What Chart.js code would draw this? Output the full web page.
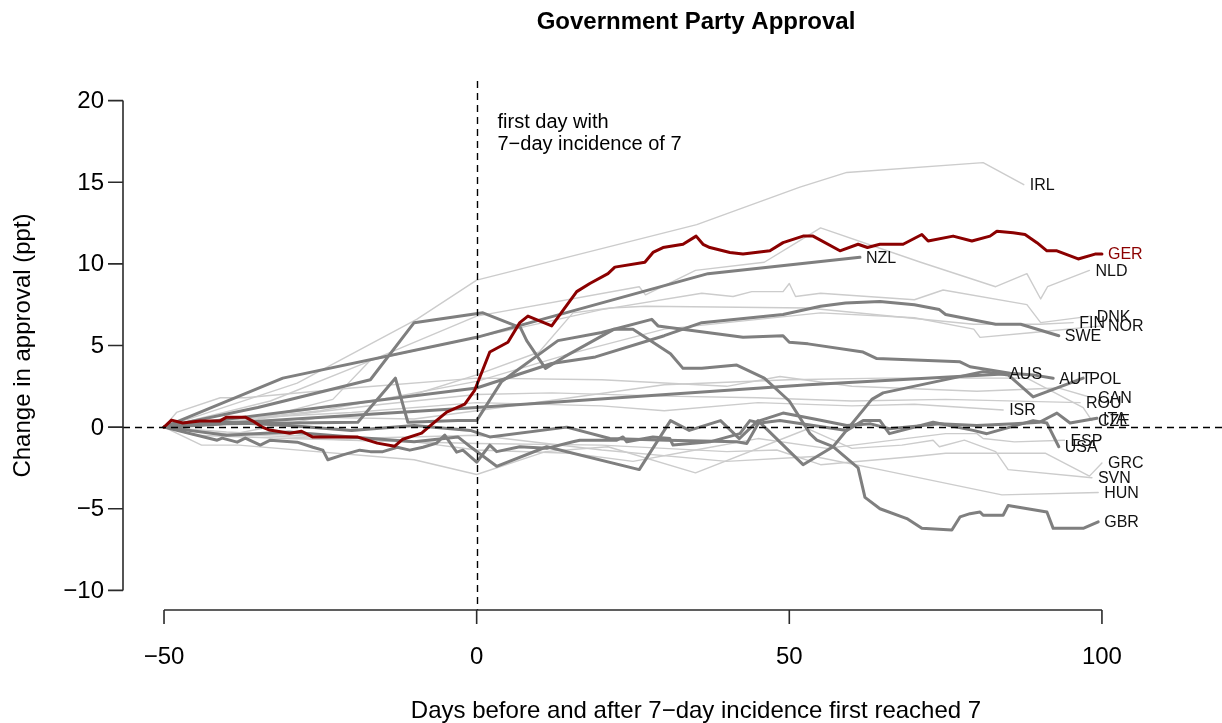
<!DOCTYPE html>
<html>
<head>
<meta charset="utf-8">
<title>Government Party Approval</title>
<script src="https://cdn.jsdelivr.net/npm/chart.js@4.4.1/dist/chart.umd.min.js"></script>
<style>
  html, body { margin: 0; padding: 0; background: #ffffff; overflow: hidden; }
  #wrap { position: relative; width: 1222px; height: 723px; }
</style>
</head>
<body>
<div id="wrap"><canvas id="chart"></canvas></div>
<script>
// Change in government party approval (percentage points), by days relative
// to the first day a country's 7-day incidence reached 7.

// ---- focus country ----
const dGER = [-50,-48.8,-47,-44.3,-41.1,-40,-37,-35.8,-34.3,-33.1,
              -29.9,-28,-26.2,-19,-15.9,-13.1,-11.8,-8.8,-7.5,-4.8,
              -1.9,-0.3,2.1,5,6.9,8.2,12,16,18.1,21,
              22.1,26.9,28.2,29.8,33,35.1,36.2,37.3,40.5,42.6,
              46.9,49,52.2,53.8,58.1,61,62.5,64.5,68.2,71.2,
              72.2,76.2,79.2,82.1,83.2,85.8,87.7,89.6,91.2,92.8,
              96.2,98.9,100];
const vGER = [0,0.43,0.25,0.37,0.37,0.61,0.61,0.37,0,-0.18,
              -0.37,-0.25,-0.61,-0.61,-0.98,-1.17,-0.74,-0.37,0.06,0.92,
              1.41,2.27,4.6,5.2,6.4,6.8,6.2,8.3,8.8,9.4,
              9.8,10.1,10.7,11.0,11.2,11.7,11.2,11.0,10.7,10.6,
              10.8,11.3,11.7,11.7,10.8,11.2,11.0,11.2,11.2,11.8,
              11.4,11.7,11.4,11.7,12.0,11.9,11.8,11.3,10.8,10.8,
              10.3,10.6,10.6];

// ---- highlighted comparison countries ----
const dNZL = [-50,-31,0,37,61.3];
const vNZL = [0,3.0,5.5,9.4,10.4];

const dSWE = [-50,0,12,19,30,36,49,55,59,64.5,70,74,75,83,87,93.1];
const vSWE = [0,2.4,3.9,4.3,5.6,6.4,6.9,7.4,7.6,7.7,7.5,7.2,6.9,6.3,6.3,5.6];

const dAUS = [-50,0,53,84.2];
const vAUS = [0,1.2,2.6,3.25];

const dAUT = [-50,-40,-19,-13,-11,-3,0,4,13,20,28,29,42.6,49,50,53,61.8,64,77.3,78.9,85.3,89,92.2];
const vAUT = [0,0.2,0.3,3.0,0.3,0.4,0.4,2.8,5.3,5.8,6.6,6.2,5.5,5.6,5.2,5.1,4.6,4.2,4.0,3.7,3.3,3.2,3.0];

const dPOL = [-50,-40,-30,-20,-10,-3,-1,3.2,11.2,26,31,34,39,42,45,52.2,57,63.2,65,81,85,89,97];
const vPOL = [0,-0.5,-0.3,-0.6,-0.9,-0.6,-1.2,-2.4,-1.2,-2.6,0.4,-0.2,0.4,-0.7,0.4,-2.3,-1.2,1.7,2.1,3.4,3.2,1.85,3.0];

const dITA = [-50,-40,-30,-20,-10,-1,2.1,14.4,21.3,30.4,41.6,43.2,45.3,49,54,59.2,63,66,74,80,86,90,92.8,94.9,99.2];
const vITA = [0,0.3,0.1,-0.2,0.1,-0.2,-0.6,0,-0.7,-0.8,-0.9,-1.0,0.4,0.86,0.5,0.1,0.2,-0.1,0.2,0.1,0.2,0.3,0.86,0.25,0.55];

const dUSA = [-50,-41.5,-40.7,-38.3,-37,-34.6,-33,-28.7,-26.2,-24.6,
              -23.8,-21.4,-18.7,-17,-15,-12.7,-10.7,-8.6,-6.4,-5.1,
              -3.2,-2.2,0,2.1,3.2,6.9,11.2,15.4,16.5,22.4,
              23.4,24,28.2,30.9,31.4,37.3,42.1,43.7,45.3,48.5,
              59.2,61.8,64.5,66,73,79.4,81.6,85.3,89,91.2,93.1];
const vUSA = [0,-0.8,-0.67,-0.92,-0.67,-1.1,-0.8,-0.92,-1.23,-1.41,
              -2.0,-1.7,-1.41,-1.5,-1.5,-1.23,-1.41,-1.23,-0.98,-0.49,
              -1.53,-1.41,-2.15,-1.1,-1.5,-1.2,-1.3,-0.9,-0.8,-0.8,
              -0.6,-0.9,-0.6,-0.7,-1.1,-0.9,-0.4,0.4,0.25,0.4,
              -0.2,0.4,0.4,-0.4,0.3,-0.2,-0.4,0,0.4,0.25,-1.2];

const dGBR = [-50,-35,-17,-10,1,7,8,11,14,22,25,31,33,36,41.6,46,50,53.3,54.4,57,
              61,62.1,64.5,68.8,71.2,76,77.3,78.9,80.5,81,84.2,85,91.2,92.2,97,99.4];
const vGBR = [0,1.2,2.9,6.4,7.0,6.1,5.3,3.6,4.3,6.0,6.0,4.5,3.6,3.6,3.8,3.0,1.6,-0.4,-0.8,-1.2,
              -2.5,-4.3,-5.0,-5.6,-6.2,-6.3,-5.5,-5.3,-5.2,-5.4,-5.4,-4.8,-5.2,-6.2,-6.2,-5.8];

// ---- other countries (background) ----
const dIRL = [-50,-28.7,-9.6,0,35.2,51.7,59.2,81,87.5];
const vIRL = [0,2.7,6.6,9.0,12.4,14.7,15.6,16.2,14.85];

const dNLD = [-50,-33,-18,0,26,27,35,46,52,55,71,83,88,90.2,91.3,98];
const vNLD = [0,1.6,3.9,6.8,8.6,8.1,9.6,10.1,11.5,12.2,10.1,8.6,9.4,7.85,8.6,9.6];

const dDNK = [-50,-35,-23,-17,0,20,36,41,44,49,50,51,55,70,74.6,88,90.2,98.2];
const vDNK = [0,0.5,1.7,4.1,5.5,7.2,8.2,8.0,8.3,8.3,8.8,8.0,8.2,7.8,8.4,7.5,6.4,6.8];

const dFIN = [-50,-30,-10,0,10,15.4,21.3,27,53,79.5,90,95.4];
const vFIN = [0,0.9,2.0,3.2,4.6,7.0,7.3,7.4,7.3,6.3,6.3,6.4];

const dNOR = [-50,-25,0,15,30,45,55,70,79.5,80.5,89,100];
const vNOR = [0,1.0,2.8,4.5,6.0,6.6,7.0,6.7,6.0,5.5,5.8,6.2];

const dCAN = [-50,-48,-41,-37,-20,0,20,40,48.5,60,80,93,98.4];
const vCAN = [0,0.9,1.8,1.8,2.4,3.0,2.9,2.5,3.1,2.5,2.2,2.4,1.8];

const dROU = [-50,-35,-15,0,12,30,45,60,75,96.5];
const vROU = [0,0.5,1.4,2.0,2.1,1.9,1.8,1.6,1.7,1.5];

const dISR = [-50,-40,-20,0,20,30,45,60,70,84.2];
const vISR = [0,0.5,0.9,1.5,1.3,1.0,1.5,1.3,1.4,1.05];

const dCZE = [-50,-40,-25,-10,0,15,30,50,65,88,97,98.4];
const vCZE = [0,-0.5,0.6,0.5,1.0,1.8,2.6,2.9,3.0,3.0,1.2,0.4];

const dESP = [-50,-45,-30,-10,0,15,25,35,45,56,75,80,81,86,94];
const vESP = [0,-0.5,-0.7,-0.9,-1.4,-1.6,-2.1,-1.4,-0.7,-1.3,-0.4,-0.4,-0.7,-0.9,-0.8];

const dGRC = [-50,-40,-20,0,20,40,48,55,70,75,91,98,100];
const vGRC = [0,-0.4,-0.8,-1.0,-1.1,-1.5,-1.4,-2.3,-1.8,-1.6,-1.6,-3.0,-2.2];

const dSVN = [-50,-44,-38,-10,0,11,21,35,53,60,68,73,74,78,83,85,98.4];
const vSVN = [0,-1.1,-1.1,-2.0,-2.9,-1.5,-1.2,-2.8,-0.1,-1.3,-1.1,-0.8,-1.2,-0.8,-1.5,-2.6,-3.1];

const dHUN = [-50,-40,-20,0,20,40,54,64.5,84,99.4];
const vHUN = [0,-0.3,-0.7,-0.5,-1.4,-2.1,-1.8,-2.6,-4.15,-4.0];

// ---- axes ----
const xTicks = [-50, 0, 50, 100];
const yTicks = [-10, -5, 0, 5, 10, 15, 20];
const xTickLabels = ['\u221250', '0', '50', '100'];
const yTickLabels = ['\u221210', '\u22125', '0', '5', '10', '15', '20'];

const mainTitle = 'Government Party Approval';
const xTitle = 'Days before and after 7\u2212day incidence first reached 7';
const yTitle = 'Change in approval (ppt)';
const markerNote = ['first day with', '7\u2212day incidence of 7'];

const focusCountry = 'GER';
const darkCountries = ['NZL','SWE','AUS','AUT','POL','ITA','USA','GBR'];
const lightCountries = ['IRL','NLD','DNK','FIN','NOR','CAN','ROU','ISR','CZE','ESP','GRC','SVN','HUN'];

const seriesDays = {GER:dGER,NZL:dNZL,SWE:dSWE,AUS:dAUS,AUT:dAUT,POL:dPOL,ITA:dITA,USA:dUSA,GBR:dGBR,
  IRL:dIRL,NLD:dNLD,DNK:dDNK,FIN:dFIN,NOR:dNOR,CAN:dCAN,ROU:dROU,ISR:dISR,CZE:dCZE,ESP:dESP,GRC:dGRC,SVN:dSVN,HUN:dHUN};
const seriesVals = {GER:vGER,NZL:vNZL,SWE:vSWE,AUS:vAUS,AUT:vAUT,POL:vPOL,ITA:vITA,USA:vUSA,GBR:vGBR,
  IRL:vIRL,NLD:vNLD,DNK:vDNK,FIN:vFIN,NOR:vNOR,CAN:vCAN,ROU:vROU,ISR:vISR,CZE:vCZE,ESP:vESP,GRC:vGRC,SVN:vSVN,HUN:vHUN};

const FOCUS_COLOR = '#8b0000';
const DARK_COLOR = '#7f7f7f';
const LIGHT_COLOR = '#cccccc';
const FONT = '"Liberation Sans", Arial, Helvetica, sans-serif';

function toPoints(code) {
  const d = seriesDays[code], v = seriesVals[code];
  return d.map((x, i) => ({ x: x, y: v[i] }));
}
function makeDataset(code, color, width, order) {
  return {
    label: code,
    data: toPoints(code),
    borderColor: color,
    borderWidth: width,
    pointRadius: 0,
    pointHoverRadius: 0,
    tension: 0,
    fill: false,
    borderCapStyle: 'round',
    borderJoinStyle: 'round',
    order: order
  };
}

const datasets = [];
lightCountries.forEach(c => datasets.push(makeDataset(c, LIGHT_COLOR, 1.4, 3)));
darkCountries.forEach(c => datasets.push(makeDataset(c, DARK_COLOR, 3, 2)));
datasets.push(makeDataset(focusCountry, FOCUS_COLOR, 3, 1));

// Base-graphics style frame: detached axes, dashed reference lines, end labels.
const framePlugin = {
  id: 'frame',
  afterDatasetsDraw(chart) {
    const ctx = chart.ctx;
    const xs = chart.scales.x, ys = chart.scales.y;
    const area = chart.chartArea;
    ctx.save();

    // reference lines at day 0 and zero change
    ctx.save();
    ctx.beginPath();
    ctx.rect(area.left, area.top, area.right - area.left, area.bottom - area.top);
    ctx.clip();
    ctx.strokeStyle = '#000000';
    ctx.lineWidth = 1.4;
    ctx.setLineDash([7, 5]);
    const x0 = Math.round(xs.getPixelForValue(0)) + 0.5;
    ctx.beginPath(); ctx.moveTo(x0, area.top); ctx.lineTo(x0, area.bottom); ctx.stroke();
    const y0 = Math.round(ys.getPixelForValue(0)) + 0.5;
    ctx.beginPath(); ctx.moveTo(area.left, y0); ctx.lineTo(area.right, y0); ctx.stroke();
    ctx.restore();

    // axes
    ctx.strokeStyle = '#2b2b2b';
    ctx.fillStyle = '#000000';
    ctx.lineWidth = 1.6;
    ctx.setLineDash([]);
    const axisY = area.bottom;
    const xa = xs.getPixelForValue(xTicks[0]), xb = xs.getPixelForValue(xTicks[xTicks.length - 1]);
    ctx.beginPath(); ctx.moveTo(xa, axisY); ctx.lineTo(xb, axisY);
    xTicks.forEach(t => { const p = xs.getPixelForValue(t); ctx.moveTo(p, axisY); ctx.lineTo(p, axisY + 14); });
    ctx.stroke();
    const axisX = area.left;
    const ya = ys.getPixelForValue(yTicks[0]), yb = ys.getPixelForValue(yTicks[yTicks.length - 1]);
    ctx.beginPath(); ctx.moveTo(axisX, ya); ctx.lineTo(axisX, yb);
    yTicks.forEach(t => { const p = ys.getPixelForValue(t); ctx.moveTo(axisX, p); ctx.lineTo(axisX - 15, p); });
    ctx.stroke();

    ctx.font = '24px ' + FONT;
    ctx.textAlign = 'center';
    ctx.textBaseline = 'middle';
    xTicks.forEach((t, i) => ctx.fillText(xTickLabels[i], xs.getPixelForValue(t), 657));
    ctx.textAlign = 'right';
    yTicks.forEach((t, i) => ctx.fillText(yTickLabels[i], 104, ys.getPixelForValue(t) + 1));

    // titles
    const cx = 696;
    ctx.textAlign = 'center';
    ctx.fillText(xTitle, cx, 711);
    ctx.save();
    ctx.translate(23, (area.top + area.bottom) / 2);
    ctx.rotate(-Math.PI / 2);
    ctx.fillText(yTitle, 0, 0);
    ctx.restore();
    ctx.font = 'bold 24px ' + FONT;
    ctx.fillText(mainTitle, cx, 22);

    // note beside the day-0 line
    ctx.font = '20px ' + FONT;
    ctx.textAlign = 'left';
    ctx.fillText(markerNote[0], x0 + 20, 122);
    ctx.fillText(markerNote[1], x0 + 20, 144);

    // country labels at the end of each line
    ctx.font = '16px ' + FONT;
    chart.data.datasets.forEach(ds => {
      const last = ds.data[ds.data.length - 1];
      ctx.fillStyle = ds.label === focusCountry ? FOCUS_COLOR : '#111111';
      ctx.fillText(ds.label, xs.getPixelForValue(last.x) + 6, ys.getPixelForValue(last.y) + 1);
    });
    ctx.restore();
  }
};

new Chart(document.getElementById('chart'), {
  type: 'line',
  data: { datasets: datasets },
  options: {
    responsive: true,
    maintainAspectRatio: false,
    animation: false,
    devicePixelRatio: 1,
    layout: { padding: { left: 123, top: 81, right: 0, bottom: 113 } },
    scales: {
      x: { type: 'linear', min: -56.56, max: 119.2, display: false },
      y: { type: 'linear', min: -11.2, max: 21.2, display: false }
    },
    plugins: {
      legend: { display: false },
      tooltip: { enabled: false },
      title: { display: false }
    },
    events: []
  },
  plugins: [framePlugin]
});
</script>
</body>
</html>
